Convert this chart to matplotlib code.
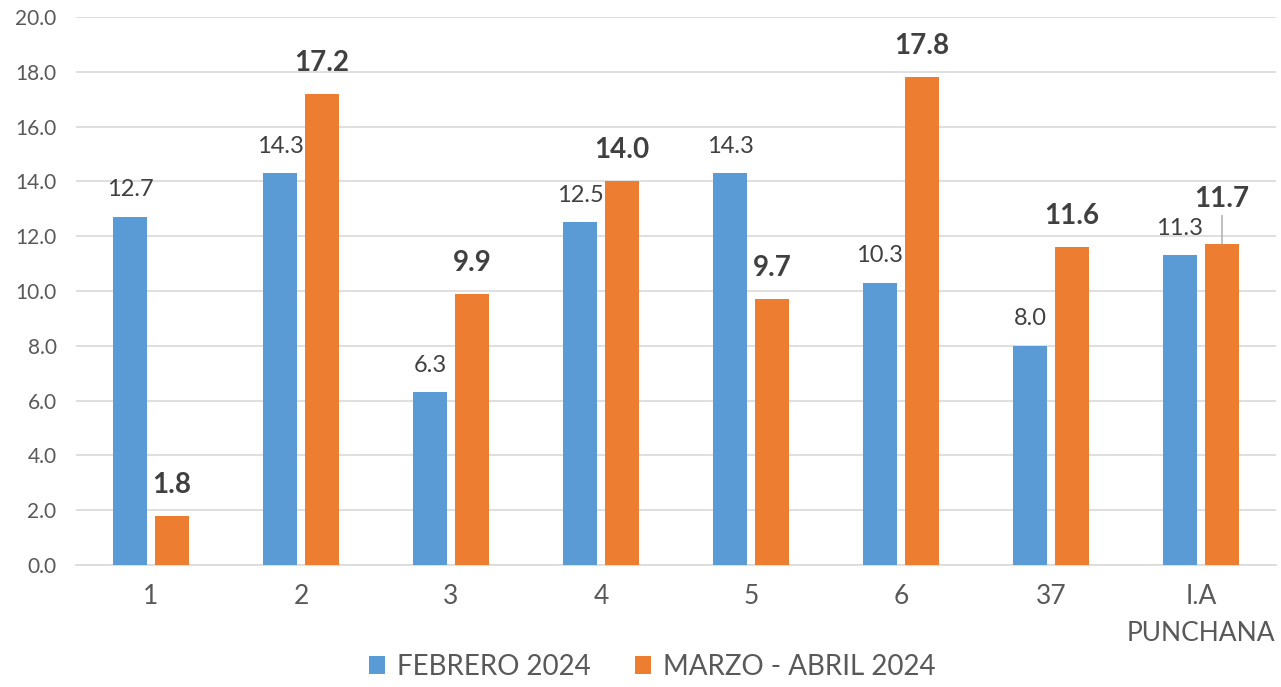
import matplotlib.pyplot as plt
import numpy as np

plt.rcParams['font.family'] = ['Lato', 'DejaVu Sans']

# categorias y valores
categorias = ["1", "2", "3", "4", "5", "6", "37", "I.A\nPUNCHANA"]
febrero = [12.7, 14.3, 6.3, 12.5, 14.3, 10.3, 8.0, 11.3]
marzo_abril = [1.8, 17.2, 9.9, 14.0, 9.7, 17.8, 11.6, 11.7]

azul = "#5B9BD5"
naranja = "#ED7D31"
gris = "#595959"

fig = plt.figure(figsize=(12.81, 6.87), dpi=100)
ax = fig.add_axes([76/1281, 1-565/687, 1200/1281, 548/687])

x = np.arange(len(categorias))
w = 0.227
ax.bar(x - 0.14, febrero, w, color=azul, label="FEBRERO 2024", zorder=3)
ax.bar(x + 0.14, marzo_abril, w, color=naranja, label="MARZO - ABRIL 2024", zorder=3)

for i, v in enumerate(febrero):
    ax.annotate(f"{v:.1f}", (x[i] - 0.14, v), xytext=(0, 19.5), textcoords="offset points",
                ha="center", va="center", fontsize=17, color="#404040")

for i, v in enumerate(marzo_abril):
    off = 22.3
    if i == len(marzo_abril) - 1:
        # etiqueta desplazada con linea guia
        off = 33
        ax.annotate("", (x[i] + 0.14, v), xytext=(x[i] + 0.14, v + 29/27.4),
                    arrowprops=dict(arrowstyle="-", color="#a6a6a6", lw=1, shrinkA=0, shrinkB=0))
    ax.annotate(f"{v:.1f}", (x[i] + 0.14, v), xytext=(0, off), textcoords="offset points",
                ha="center", va="center", fontsize=20, fontweight="bold", color="#404040")

ax.set_xlim(-0.5, len(categorias) - 0.5)
ax.set_ylim(0, 20)
ax.set_yticks(np.arange(0, 21, 2))
ax.set_yticklabels([f"{t:.1f}" for t in np.arange(0, 21, 2)])
ax.set_xticks(x)
ax.set_xticklabels(categorias, linespacing=1.6)
ax.tick_params(axis="y", labelsize=15, colors=gris, length=0, pad=14)
ax.tick_params(axis="x", labelsize=19, colors=gris, length=0, pad=14)
ax.grid(axis="y", color="#d9d9d9", lw=1.2, zorder=0)
for s in ["top", "right", "left"]:
    ax.spines[s].set_visible(False)
ax.spines["bottom"].set_color("#d9d9d9")
ax.spines["bottom"].set_linewidth(1.2)

fig.legend(loc="center", bbox_to_anchor=(652/1281, 1-667/687), ncol=2, frameon=False,
           fontsize=20, labelcolor=gris, handlelength=0.6, handleheight=0.6,
           handletextpad=0.4, columnspacing=1.6)

fig.savefig("out.png", dpi=100)
